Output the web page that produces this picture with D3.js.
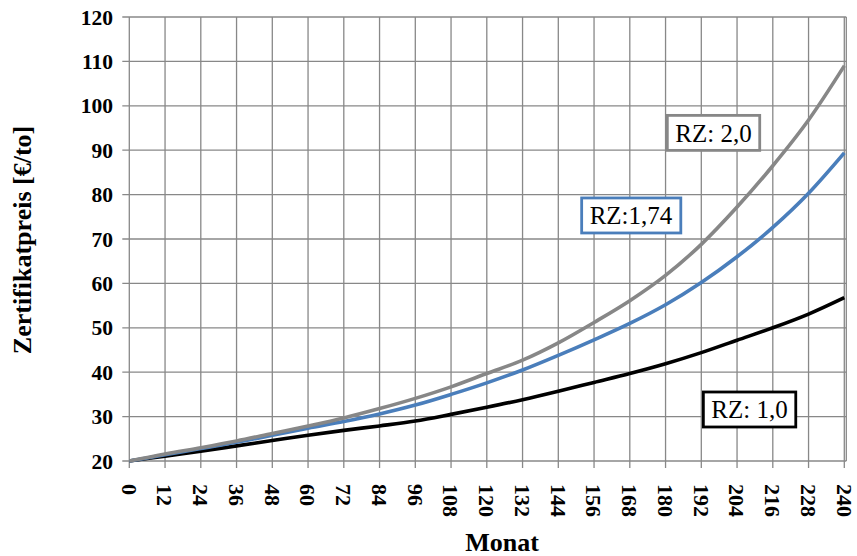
<!DOCTYPE html>
<html><head><meta charset="utf-8">
<script src="https://cdn.jsdelivr.net/npm/d3@7"></script>
<style>body{margin:0;background:#fff}svg{display:block}svg text{font-family:"Liberation Serif","Times New Roman",Times,serif}</style>
</head><body>
<svg id="c" width="857" height="556"></svg>
<script>
const months = [0,12,24,36,48,60,72,84,96,108,120,132,144,156,168,180,192,204,216,228,240];
const rz10  = [20,21.1,22.2,23.4,24.6,25.8,26.9,27.9,29.0,30.5,32.1,33.8,35.7,37.7,39.7,41.9,44.4,47.2,50.0,53.1,56.8];
const rz174 = [20,21.4,22.8,24.2,25.8,27.4,28.9,30.6,32.6,35.0,37.6,40.5,43.8,47.3,51.0,55.2,60.2,66.0,72.6,80.3,89.4];
const rz20  = [20,21.6,23.0,24.5,26.2,27.9,29.7,31.8,34.1,36.7,39.7,42.7,46.6,51.2,56.1,61.8,68.8,77.2,86.5,96.8,109.0];
const yTicks = [20,30,40,50,60,70,80,90,100,110,120];
const series = [
  {name:"RZ: 1,0", values:rz10, color:"#000000"},
  {name:"RZ:1,74", values:rz174, color:"#4A7EBB"},
  {name:"RZ: 2,0", values:rz20, color:"#878787"}
];
const labels = [
  {text:"RZ: 2,0", month:196.1, value:93.9, color:"#878787"},
  {text:"RZ:1,74", month:168.4, value:75.3, color:"#4A7EBB"},
  {text:"RZ: 1,0", month:208.2, value:31.6, color:"#000000"}
];

const svg = d3.select("#c");
const x = d3.scaleLinear().domain([0,240]).range([129.3,844.3]);
const y = d3.scaleLinear().domain([20,120]).range([461,17]);
const grid = "#888888";

svg.append("g").selectAll("line").data(yTicks).join("line")
  .attr("x1",x(0)-7).attr("x2",x(240)+2).attr("y1",d=>y(d)).attr("y2",d=>y(d))
  .attr("stroke",grid).attr("stroke-width",1.3);
svg.append("g").selectAll("line").data(months).join("line")
  .attr("x1",d=>x(d)).attr("x2",d=>x(d)).attr("y1",y(120)).attr("y2",y(20)+7)
  .attr("stroke",grid).attr("stroke-width",1.3);
svg.append("line").attr("x1",x(240)+2).attr("x2",x(240)+2).attr("y1",y(120)).attr("y2",y(20))
  .attr("stroke",grid).attr("stroke-width",1.3);

svg.append("g").selectAll("text").data(yTicks).join("text")
  .attr("x",113).attr("y",d=>y(d)).attr("dy","0.35em")
  .attr("text-anchor","end").attr("font-weight","bold")
  .attr("font-size",21.5).text(d=>d);
svg.append("g").selectAll("text").data(months).join("text")
  .attr("transform",d=>`translate(${x(d)},484) rotate(90)`)
  .attr("dy","0.35em").attr("text-anchor","start")
  .attr("font-weight","bold").attr("font-size",22).text(d=>d);

const line = d3.line().x((d,i)=>x(months[i])).y(d=>y(d)).curve(d3.curveMonotoneX);
svg.append("g").selectAll("path").data(series).join("path")
  .attr("d",d=>line(d.values)).attr("fill","none")
  .attr("stroke",d=>d.color).attr("stroke-width",3.6).attr("stroke-linejoin","round");

labels.forEach(l=>{
  const g = svg.append("g");
  const t = g.append("text").attr("x",x(l.month)).attr("y",y(l.value)).attr("dy","0.35em")
    .attr("text-anchor","middle").attr("font-size",25)
    .attr("fill","#000").text(l.text);
  const bb = t.node().getBBox();
  g.insert("rect","text").attr("x",bb.x-8).attr("y",y(l.value)-17.5)
    .attr("width",bb.width+16).attr("height",35)
    .attr("fill","#fff").attr("stroke",l.color).attr("stroke-width",2.8);
});

svg.append("text").attr("x",502).attr("y",551).attr("text-anchor","middle")
  .attr("font-weight","bold").attr("font-size",26).text("Monat");
svg.append("text").attr("transform","translate(31,240) rotate(-90)").attr("text-anchor","middle")
  .attr("font-weight","bold").attr("font-size",26).text("Zertifikatpreis [€/to]");
</script>
</body></html>
